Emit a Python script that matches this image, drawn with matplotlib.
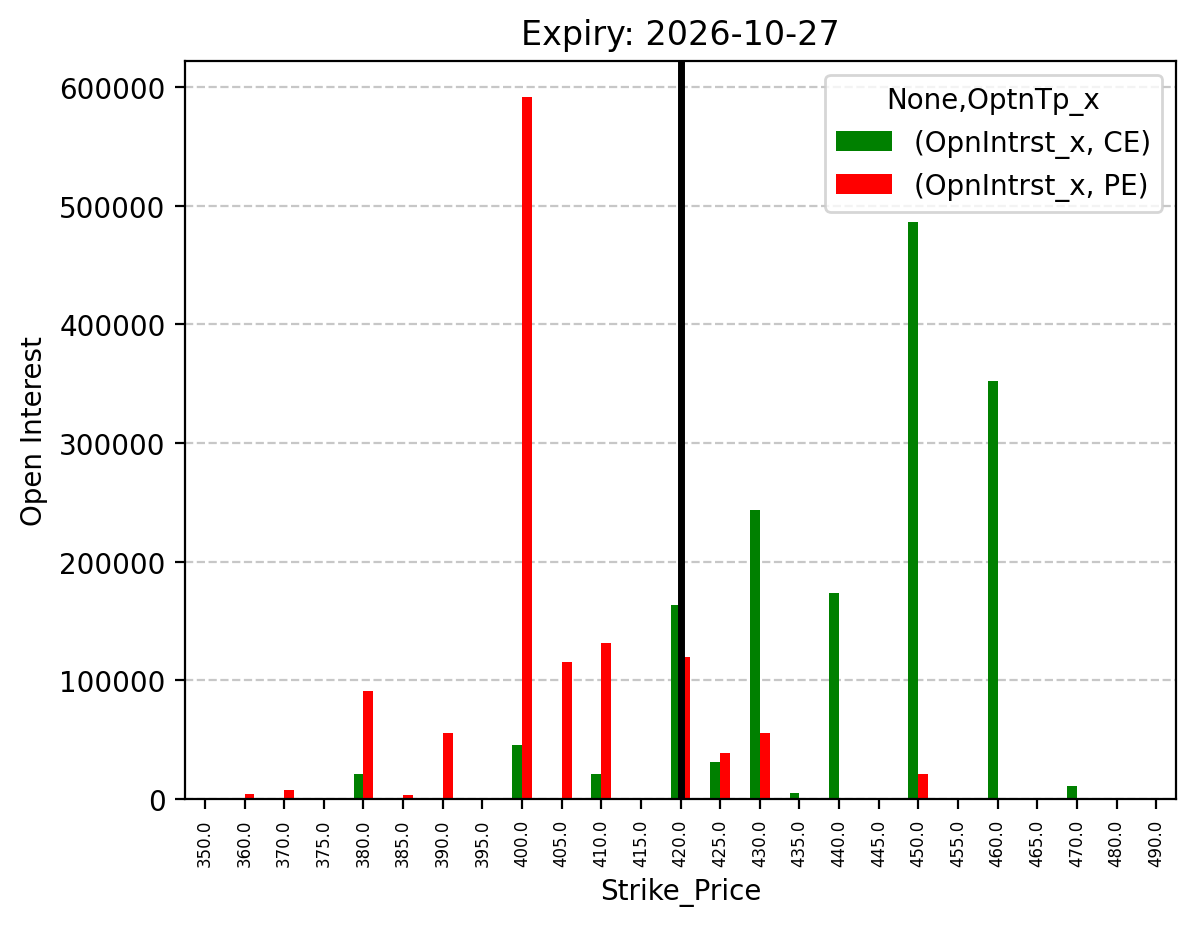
import matplotlib
matplotlib.use("Agg")
import matplotlib.pyplot as plt
import pandas as pd

# Strike prices and open interest
strikes = [350.0, 360.0, 370.0, 375.0, 380.0, 385.0, 390.0, 395.0, 400.0,
           405.0, 410.0, 415.0, 420.0, 425.0, 430.0, 435.0, 440.0, 445.0,
           450.0, 455.0, 460.0, 465.0, 470.0, 480.0, 490.0]
ce_oi = [0, 0, 1000, 0, 21000, 0, 1000, 0, 45500,
         0, 21000, 1000, 163500, 31500, 243500, 5000, 174000, 0,
         486000, 0, 352000, 0, 11000, 0, 0]
pe_oi = [0, 4000, 7500, 0, 91000, 3500, 55600, 0, 592000,
         115500, 131500, 1000, 120000, 39000, 55600, 0, 0, 0,
         21000, 0, 0, 0, 0, 0, 0]
atm_strike = 420.0

cols = pd.MultiIndex.from_tuples(
    [("OpnIntrst_x", "CE"), ("OpnIntrst_x", "PE")], names=[None, "OptnTp_x"])
df = pd.DataFrame(list(zip(ce_oi, pe_oi)),
                  index=pd.Index(strikes, name="Strike_Price"), columns=cols)

fig = plt.figure(figsize=(5.985, 4.64), dpi=200)
ax = fig.add_axes([0.1546, 0.1379, 0.8279, 0.7953])
df.plot(kind="bar", ax=ax, color=["green", "red"])

ax.axvline(strikes.index(atm_strike), color="black", linewidth=2.5)
ax.grid(axis="y", linestyle="--", alpha=0.7)
ax.set_axisbelow(True)
ax.tick_params(axis="x", labelsize=6, labelrotation=90)
ax.set_title("Expiry: 2026-10-27")
ax.set_xlabel("Strike_Price")
ax.set_ylabel("Open Interest")
ax.set_ylim(0, 622000)

fig.savefig("out.png", dpi=200)
